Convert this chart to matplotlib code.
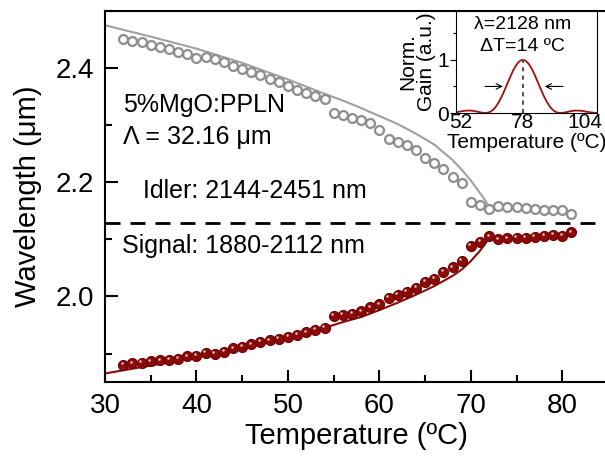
import matplotlib
matplotlib.use('Agg')
import matplotlib.pyplot as plt
import matplotlib.transforms as mtransforms
from matplotlib.ticker import MultipleLocator

plt.rcParams['font.family'] = ['Liberation Sans', 'DejaVu Sans']

# measured tuning data (temperature in C, wavelength in um)
temp = list(range(32, 82))
idler = [2.451, 2.448, 2.445, 2.441, 2.437, 2.433, 2.429, 2.424, 2.418, 2.420,
         2.415, 2.410, 2.404, 2.399, 2.393, 2.387, 2.381, 2.375, 2.369, 2.362,
         2.356, 2.351, 2.346, 2.321, 2.318, 2.313, 2.309, 2.303, 2.292, 2.276,
         2.271, 2.265, 2.256, 2.242, 2.234, 2.223, 2.210, 2.199, 2.166, 2.161,
         2.153, 2.158, 2.157, 2.156, 2.155, 2.153, 2.152, 2.151, 2.152, 2.145]
signal = [1.880, 1.883, 1.884, 1.886, 1.888, 1.889, 1.891, 1.895, 1.896, 1.901,
          1.899, 1.903, 1.909, 1.912, 1.916, 1.920, 1.923, 1.926, 1.929, 1.933,
          1.937, 1.942, 1.945, 1.966, 1.968, 1.970, 1.974, 1.981, 1.986, 1.998,
          2.003, 2.008, 2.015, 2.025, 2.031, 2.043, 2.051, 2.062, 2.089, 2.096,
          2.105, 2.100, 2.102, 2.103, 2.103, 2.104, 2.106, 2.108, 2.106, 2.112]

# theoretical curves
fit_t = [30, 35, 40, 45, 50, 54, 56, 58, 60, 62, 64, 66, 68, 69, 70, 71, 71.5, 72, 72.2]
fit_idler = [2.475, 2.455, 2.434, 2.409, 2.380, 2.355, 2.343, 2.330, 2.316, 2.302,
             2.285, 2.266, 2.239, 2.222, 2.203, 2.181, 2.170, 2.157, 2.152]
fit_signal = [1.865, 1.879, 1.893, 1.910, 1.929, 1.945, 1.955, 1.964, 1.976, 1.989,
              2.003, 2.018, 2.036, 2.047, 2.062, 2.080, 2.091, 2.102, 2.106]
degeneracy = 2.128

# inset: normalized gain vs temperature
gain_t = [50, 52, 54, 56, 58, 60, 62, 63, 64, 65, 66, 67, 68, 69, 70, 71, 72, 73,
          74, 75, 76, 77, 78, 79, 80, 81, 82, 83, 84, 85, 86, 87, 88, 89, 90, 91,
          92, 93, 94, 96, 98, 100, 102, 104, 106, 108, 109]
gain = [0.014, 0.030, 0.044, 0.047, 0.035, 0.014, 0.0, 0.003, 0.016, 0.042, 0.082,
        0.139, 0.212, 0.298, 0.395, 0.500, 0.607, 0.711, 0.807, 0.887, 0.948, 0.987,
        1.0, 0.987, 0.948, 0.887, 0.807, 0.711, 0.607, 0.500, 0.395, 0.298, 0.212,
        0.139, 0.082, 0.042, 0.016, 0.003, 0.0, 0.014, 0.035, 0.047, 0.044, 0.030,
        0.014, 0.003, 0.0]

red = '#8b0a0a'
grey = '#8e8e8e'

fig = plt.figure(figsize=(6.05, 4.57), dpi=100)
ax = fig.add_axes([0.1736, 0.164, 0.8314, 0.812])

ax.plot(fit_t, fit_idler, color='#a0a0a0', lw=1.5, zorder=2)
ax.plot(fit_t, fit_signal, color=red, lw=1.5, zorder=2)
ax.plot(temp, idler, 'o', ms=6.4, mfc='white', mec=grey, mew=1.6, zorder=3)
ax.plot(temp, signal, 'o', ms=7.2, mfc=red, mec='#6e0000', mew=0.8, zorder=3)
hl = mtransforms.offset_copy(ax.transData, fig=fig, x=-1.0, y=1.2, units='points')
ax.plot(temp, signal, 'o', ms=1.8, mfc='#e8c8c8', mec='none', transform=hl, zorder=4)
ax.axhline(degeneracy, color='black', lw=2, dashes=(5.4, 3.6), zorder=1)

ax.text(32, 2.335, '5%MgO:PPLN', fontsize=18, va='center')
ax.text(32, 2.279, 'Λ = 32.16 μm', fontsize=18, va='center')
ax.text(34.2, 2.184, 'Idler: 2144-2451 nm', fontsize=18, va='center')
ax.text(31.9, 2.088, 'Signal: 1880-2112 nm', fontsize=18, va='center')

ax.set_xlim(30, 85)
ax.set_ylim(1.85, 2.5)
ax.xaxis.set_major_locator(MultipleLocator(10))
ax.xaxis.set_minor_locator(MultipleLocator(5))
ax.yaxis.set_minor_locator(MultipleLocator(0.1))
ax.tick_params(which='both', direction='in', width=1.5, labelsize=20)
ax.tick_params(which='major', length=9, pad=8)
ax.tick_params(which='minor', length=5)
ax.set_yticks([2.0, 2.2, 2.4])
ax.set_yticklabels(['2.0', '2.2', '2.4'])
ax.set_xlabel('Temperature (ºC)', fontsize=21, labelpad=2)
ax.set_ylabel('Wavelength (μm)', fontsize=21, labelpad=10)
for s in ax.spines.values():
    s.set_linewidth(1.5)

# inset
ins = fig.add_axes([0.7537, 0.7527, 0.233, 0.2233])
ins.plot(gain_t, gain, color='#a01010', lw=1.3)
ins.plot([78, 78], [0, 1], color='#555555', lw=1.5, dashes=(2, 2))
ins.annotate('', xy=(70.8, 0.5), xytext=(61, 0.5),
             arrowprops=dict(arrowstyle='->', color='black', lw=0.8))
ins.annotate('', xy=(86, 0.5), xytext=(96, 0.5),
             arrowprops=dict(arrowstyle='->', color='black', lw=0.8))
ins.text(78, 1.66, 'λ=2128 nm', fontsize=14, ha='center', va='center')
ins.text(78, 1.25, 'ΔT=14 ºC', fontsize=14, ha='center', va='center')
ins.set_xlim(50, 109)
ins.set_ylim(0, 1.92)
ins.set_xticks([52, 78, 104])
ins.set_yticks([0, 1])
ins.yaxis.set_minor_locator(MultipleLocator(0.5))
ins.tick_params(which='both', direction='out', labelsize=15, width=0.8, pad=1)
ins.tick_params(which='major', length=4)
ins.tick_params(which='minor', length=2.5)
ins.tick_params(axis='x', length=0, pad=0)
ins.set_xlabel('Temperature (ºC)', fontsize=15, labelpad=1)
ins.set_ylabel('Norm.\nGain (a.u.)', fontsize=15, labelpad=1, linespacing=1.0)
for s in ins.spines.values():
    s.set_linewidth(0.8)

fig.savefig('out.png', dpi=100)
